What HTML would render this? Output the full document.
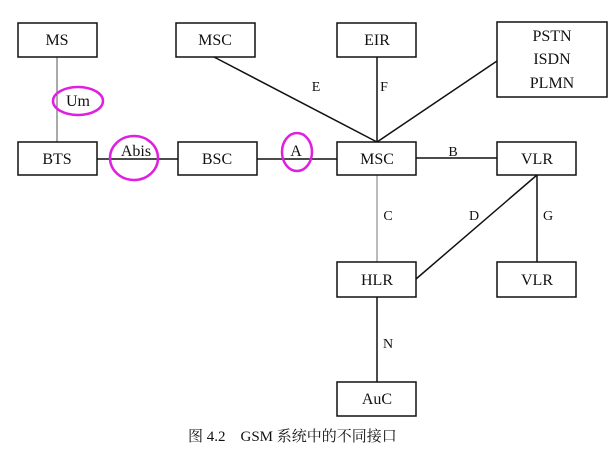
<!DOCTYPE html><html><head><style>body{margin:0;background:#fff}</style></head><body>
<svg width="612" height="449" xmlns="http://www.w3.org/2000/svg" font-family="Liberation Serif, serif" font-size="16" fill="none">
<g stroke="#111" stroke-width="1.5">
<line x1="57" y1="57" x2="57" y2="142" stroke-width="1" stroke="#555"/>
<line x1="97" y1="159" x2="178" y2="159"/>
<line x1="257" y1="159" x2="337" y2="159"/>
<line x1="416" y1="158" x2="497" y2="158"/>
<line x1="214" y1="57" x2="377" y2="142"/>
<line x1="377" y1="57" x2="377" y2="142"/>
<line x1="497" y1="61" x2="377" y2="142"/>
<line x1="377" y1="175" x2="377" y2="262" stroke-width="1" stroke="#777"/>
<line x1="537" y1="175" x2="416" y2="279"/>
<line x1="537" y1="175" x2="537" y2="262"/>
<line x1="377" y1="297" x2="377" y2="382"/>
<rect x="18" y="23" width="79" height="34"/>
<rect x="176" y="23" width="79" height="34"/>
<rect x="337" y="23" width="79" height="34"/>
<rect x="497" y="22" width="110" height="75"/>
<rect x="18" y="142" width="79" height="33"/>
<rect x="178" y="142" width="79" height="33"/>
<rect x="337" y="142" width="79" height="33"/>
<rect x="497" y="142" width="79" height="33"/>
<rect x="337" y="262" width="79" height="35"/>
<rect x="497" y="262" width="79" height="35"/>
<rect x="337" y="382" width="79" height="34"/>
</g>
<g stroke="#e020e0" stroke-width="2.5">
<ellipse cx="78" cy="101" rx="25" ry="14"/>
<ellipse cx="134" cy="158" rx="24" ry="22"/>
<ellipse cx="297" cy="152" rx="15" ry="19"/>
</g>
<g fill="#111" text-anchor="middle">
<text x="57" y="45">MS</text><text x="215" y="45">MSC</text><text x="377" y="45">EIR</text>
<text x="552" y="41">PSTN</text><text x="552" y="64">ISDN</text><text x="552" y="88">PLMN</text>
<text x="57" y="164">BTS</text><text x="217" y="164">BSC</text><text x="377" y="164">MSC</text><text x="537" y="164">VLR</text>
<text x="377" y="285">HLR</text><text x="537" y="285">VLR</text><text x="377" y="404">AuC</text>
<text x="78" y="106">Um</text><text x="136" y="156">Abis</text><text x="296" y="156">A</text>
<text x="316" y="91" font-size="14">E</text><text x="384" y="91" font-size="14">F</text><text x="453" y="156" font-size="14">B</text>
<text x="388" y="220" font-size="14">C</text><text x="474" y="220" font-size="14">D</text><text x="548" y="220" font-size="14">G</text><text x="388" y="348" font-size="14">N</text>
<text x="188" y="441" text-anchor="start" font-size="15" font-family="Liberation Serif, Noto Serif CJK SC, serif">图 4.2　GSM 系统中的不同接口</text>
</g>
</svg></body></html>
